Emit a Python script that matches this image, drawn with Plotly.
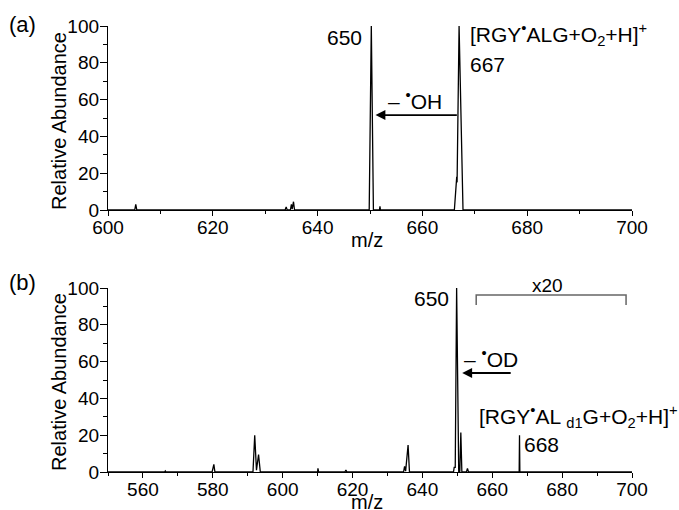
import plotly.graph_objects as go

# ---------------- data ----------------
# panel (a): profile spectrum points (m/z, relative abundance)
mz_a = [600, 605.1, 605.3, 605.5, 633.8, 634.0, 634.2, 634.8, 635.0, 635.15, 635.4, 635.6,
        649.85, 650.25, 650.65, 651.8, 651.9, 652.0,
        666.1, 666.45, 666.55, 666.62, 667.0, 667.75, 700]
ab_a = [0, 0, 3, 0, 0, 1.6, 0, 0, 3, 0.5, 4.5, 0,
        0, 100, 0, 0, 2, 0,
        0, 12, 18, 15, 100, 0, 0]

# panel (b)
mz_b = [550, 566.2, 566.4, 566.6, 579.8, 580.3, 580.6,
        591.5, 592.0, 592.5, 593.1, 593.6,
        610.0, 610.1, 610.3, 617.8, 618.1, 618.4,
        634.6, 634.9, 635.2, 635.9, 636.3,
        648.9, 649.1, 649.4, 649.8, 650.4, 650.7, 651.0, 651.3,
        652.6, 652.9, 653.2,
        667.7, 667.8, 667.9, 700]
ab_b = [0, 0, 0.6, 0, 0, 4.2, 0,
        0, 20, 1, 9.5, 0,
        0, 2, 0, 0, 1, 0,
        0, 3, 0.5, 14.7, 0,
        0, 2.5, 2.5, 100, 0, 0, 21.4, 0,
        0, 2, 0,
        0, 20, 0, 0]

xticks_a = [600, 620, 640, 660, 680, 700]
xticks_b = [560, 580, 600, 620, 640, 660, 680, 700]
yticks = [0, 20, 40, 60, 80, 100]

W, H = 679, 510
FONT = "Liberation Sans, Arial, sans-serif"


def px(x):
    return x / W


def py(y):
    return 1 - y / H


fig = go.Figure()
fig.add_trace(go.Scatter(x=mz_a, y=ab_a, mode="lines", xaxis="x", yaxis="y",
                         line=dict(color="black", width=1.3), showlegend=False))
fig.add_trace(go.Scatter(x=mz_b, y=ab_b, mode="lines", xaxis="x2", yaxis="y2",
                         line=dict(color="black", width=1.3), showlegend=False))

xdom = [px(108), px(632)]
ax_common = dict(showline=True, linecolor="black", linewidth=1.3, showgrid=False,
                 zeroline=False, ticks="outside", tickcolor="black", tickwidth=1.3,
                 automargin=False,
                 tickfont=dict(family=FONT, size=19, color="black"))

fig.update_layout(
    template="none",
    width=W, height=H, margin=dict(l=0, r=0, t=0, b=0, pad=0, autoexpand=False),
    paper_bgcolor="white", plot_bgcolor="white",
    xaxis=dict(domain=xdom, range=[600, 700], anchor="y", tickvals=xticks_a, ticklen=5,
               ticklabelstandoff=-5,
               minor=dict(dtick=10, tick0=600, ticklen=3, ticks="outside", tickcolor="black"),
               **ax_common),
    yaxis=dict(domain=[py(210), py(26)], range=[0, 100], anchor="x", tickvals=yticks, ticklen=7,
               ticklabelstandoff=-3,
               minor=dict(dtick=10, tick0=0, ticklen=4, ticks="outside", tickcolor="black"),
               **ax_common),
    xaxis2=dict(domain=xdom, range=[550, 700], anchor="y2", tickvals=xticks_b, ticklen=5,
                ticklabelstandoff=-5,
                minor=dict(dtick=10, tick0=550, ticklen=3, ticks="outside", tickcolor="black"),
                **ax_common),
    yaxis2=dict(domain=[py(472), py(288)], range=[0, 100], anchor="x2", tickvals=yticks, ticklen=7,
                ticklabelstandoff=-3,
                minor=dict(dtick=10, tick0=0, ticklen=4, ticks="outside", tickcolor="black"),
                **ax_common),
)


def txt(text, x, y, size=21, xanchor="left", yanchor="middle", angle=0):
    fig.add_annotation(text=text, x=px(x), y=py(y), xref="paper", yref="paper",
                       xanchor=xanchor, yanchor=yanchor, showarrow=False, textangle=angle,
                       font=dict(family=FONT, size=size, color="black"))


# panel (a) texts
txt("(a)", 7, 24, size=22)
txt("650", 364, 38, xanchor="right")
txt("[RGY<sup>•</sup>ALG+O<sub>2</sub>+H]<sup>+</sup>", 468, 35)
txt("667", 468, 64)
txt("– <sup>•</sup>OH", 386, 100)
txt("Relative Abundance", 59, 121, size=20, xanchor="center", angle=-90)
txt("m/z", 367, 240, size=20, xanchor="center")

# panel (b) texts
txt("(b)", 7, 282, size=22)
txt("650", 451, 298, xanchor="right")
txt("x20", 547, 285, size=19, xanchor="center")
txt("– <sup>•</sup>OD", 462, 358)
txt("[RGY<sup>•</sup>AL <sub>d1</sub>G+O<sub>2</sub>+H]<sup>+</sup>", 477, 416)
txt("668", 522, 444)
txt("Relative Abundance", 59, 382, size=20, xanchor="center", angle=-90)
txt("m/z", 367, 502, size=20, xanchor="center")

# arrows (data coordinates)
fig.add_annotation(x=651.05, y=51.6, ax=666.86, ay=51.6, xref="x", yref="y", axref="x", ayref="y",
                   text="", showarrow=True, arrowhead=2, arrowsize=1.1, arrowwidth=1.8, arrowcolor="black")
fig.add_annotation(x=651.4, y=53.8, ax=665.7, ay=53.8, xref="x2", yref="y2", axref="x2", ayref="y2",
                   text="", showarrow=True, arrowhead=2, arrowsize=1.1, arrowwidth=1.8, arrowcolor="black")

# x20 bracket
fig.add_shape(type="path", xref="x2", yref="y2",
              path="M 655.4 90.8 L 655.4 96.2 L 698.3 96.2 L 698.3 90.8",
              line=dict(color="#666666", width=1.5))

fig.write_html("out.html",
               post_script="document.body.style.margin='0';document.body.style.overflow='hidden';")
